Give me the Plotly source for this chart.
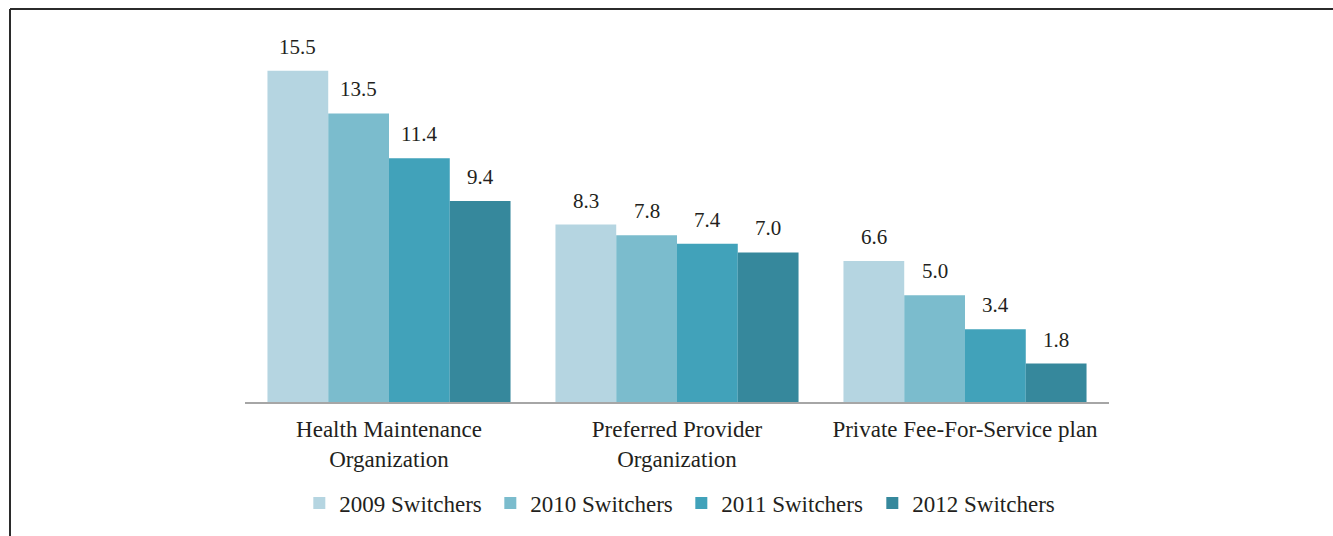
import plotly.graph_objects as go

categories = ["Health Maintenance<br>Organization", "Preferred Provider<br>Organization",
              "Private Fee-For-Service plan"]
series_names = ["2009 Switchers", "2010 Switchers", "2011 Switchers", "2012 Switchers"]
values_2009 = [15.5, 8.3, 6.6]
values_2010 = [13.5, 7.8, 5.0]
values_2011 = [11.4, 7.4, 3.4]
values_2012 = [9.4, 7.0, 1.8]
colors = ["#b5d5e1", "#7bbccd", "#41a2ba", "#36889c"]

series_values = [values_2009, values_2010, values_2011, values_2012]
FONT = "Liberation Serif, Times New Roman, serif"
BARGAP = 0.156

fig = go.Figure()
for name, vals, col in zip(series_names, series_values, colors):
    fig.add_trace(go.Bar(
        name=name, x=list(range(len(categories))), y=vals,
        marker=dict(color=col, line=dict(width=0)),
    ))

# value labels above each bar
n = len(series_values)
bw = (1 - BARGAP) / n
for j, vals in enumerate(series_values):
    for i, v in enumerate(vals):
        fig.add_annotation(
            x=i - (1 - BARGAP) / 2 + bw * (j + 0.5), y=v, xref="x", yref="y",
            text=f"{v:.1f}", showarrow=False, yanchor="bottom", yshift=10,
            font=dict(family=FONT, size=21, color="#231f20"),
        )

# frame lines along the left and top edges
fig.add_shape(type="line", xref="paper", yref="paper",
              x0=(10 - 245) / 864, x1=(1333 - 245) / 864,
              y0=(402 - 9) / 374, y1=(402 - 9) / 374,
              line=dict(color="#2b2b2b", width=2))
fig.add_shape(type="line", xref="paper", yref="paper",
              x0=(10 - 245) / 864, x1=(10 - 245) / 864,
              y0=(402 - 9) / 374, y1=(402 - 540) / 374,
              line=dict(color="#2b2b2b", width=2))

fig.update_layout(
    width=1333, height=536,
    margin=dict(l=245, r=224, t=28, b=134),
    paper_bgcolor="white", plot_bgcolor="white",
    barmode="group", bargap=BARGAP, bargroupgap=0,
    font=dict(family=FONT, size=23, color="#231f20"),
    xaxis=dict(
        tickmode="array", tickvals=list(range(len(categories))), ticktext=categories,
        range=[-0.5, len(categories) - 0.5],
        showline=True, linecolor="#a6a6a6", linewidth=2,
        ticks="", showgrid=False, zeroline=False, ticklabelstandoff=5,
        tickfont=dict(family=FONT, size=23, color="#231f20"),
    ),
    yaxis=dict(range=[0, 17.5], visible=False, showgrid=False, zeroline=False),
    legend=dict(
        orientation="h", x=0.505, xanchor="center", y=-0.27, yanchor="middle",
        font=dict(family=FONT, size=23, color="#231f20"),
        itemwidth=30, traceorder="normal",
        entrywidth=146, entrywidthmode="pixels",
    ),
    showlegend=True,
)

fig.write_html("out.html")
